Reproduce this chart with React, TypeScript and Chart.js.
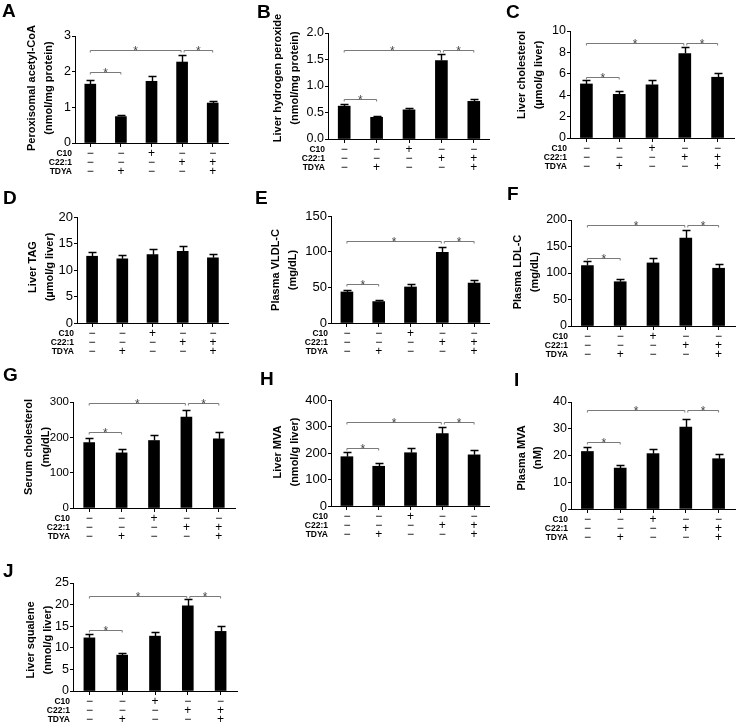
import React, { useEffect, useRef } from "react";
import { Chart, registerables } from "chart.js";

Chart.register(...registerables);

const FONT = '"Liberation Sans", Arial, Helvetica, sans-serif';

// ---------- data ----------
const categories = ["G1", "G2", "G3", "G4", "G5"];
const rowLabels = ["C10", "C22:1", "TDYA"];
const c10Signs = ["−", "−", "+", "−", "−"];
const c22Signs = ["−", "−", "−", "+", "+"];
const tdyaSigns = ["−", "+", "−", "−", "+"];

const titleA = ["Peroxisomal acetyl-CoA", "(nmol/mg protein)"];
const valuesA = [1.65, 0.74, 1.73, 2.27, 1.12];
const errorsA = [0.13, 0.05, 0.14, 0.19, 0.07];
const ticksA = [0, 1, 2, 3];
const tickLabelsA = ["0", "1", "2", "3"];
const bracketsA = [[0, 1, 1.99], [0, 3, 2.62], [3, 4, 2.62]];

const titleB = ["Liver hydrogen peroxide", "(nmol/mg protein)"];
const valuesB = [0.62, 0.41, 0.55, 1.48, 0.71];
const errorsB = [0.04, 0.02, 0.04, 0.12, 0.05];
const ticksB = [0, 0.5, 1, 1.5, 2];
const tickLabelsB = ["0.0", "0.5", "1.0", "1.5", "2.0"];
const bracketsB = [[0, 1, 0.76], [0, 3, 1.67], [3, 4, 1.67]];

const titleC = ["Liver cholesterol", "(µmol/g liver)"];
const valuesC = [5.05, 4.08, 4.97, 7.9, 5.68];
const errorsC = [0.35, 0.32, 0.42, 0.58, 0.42];
const ticksC = [0, 2, 4, 6, 8, 10];
const tickLabelsC = ["0", "2", "4", "6", "8", "10"];
const bracketsC = [[0, 1, 5.72], [0, 3, 8.9], [3, 4, 8.9]];

const titleD = ["Liver TAG", "(µmol/g liver)"];
const valuesD = [12.6, 12.1, 12.9, 13.5, 12.3];
const errorsD = [0.85, 0.75, 1.1, 1.0, 0.8];
const ticksD = [0, 5, 10, 15, 20];
const tickLabelsD = ["0", "5", "10", "15", "20"];
const bracketsD: number[][] = [];

const titleE = ["Plasma VLDL-C", "(mg/dL)"];
const valuesE = [43.5, 30, 50.5, 99, 56];
const errorsE = [3.2, 2.8, 4.5, 8, 4];
const ticksE = [0, 50, 100, 150];
const tickLabelsE = ["0", "50", "100", "150"];
const bracketsE = [[0, 1, 55], [0, 3, 115], [3, 4, 115]];

const titleF = ["Plasma LDL-C", "(mg/dL)"];
const valuesF = [114, 83.5, 119, 166, 109];
const errorsF = [9.5, 5.8, 9.5, 15, 8];
const ticksF = [0, 50, 100, 150, 200];
const tickLabelsF = ["0", "50", "100", "150", "200"];
const bracketsF = [[0, 1, 128.5], [0, 3, 190.5], [3, 4, 190.5]];

const titleG = ["Serum cholesterol", "(mg/dL)"];
const valuesG = [185, 156, 191, 257, 196];
const errorsG = [14, 12, 16, 21, 18];
const ticksG = [0, 100, 200, 300];
const tickLabelsG = ["0", "100", "200", "300"];
const bracketsG = [[0, 1, 215], [0, 3, 298], [3, 4, 298]];

const titleH = ["Liver MVA", "(nmol/g liver)"];
const valuesH = [186, 150, 201, 273, 193];
const errorsH = [16, 12, 16, 27, 17];
const ticksH = [0, 100, 200, 300, 400];
const tickLabelsH = ["0", "100", "200", "300", "400"];
const bracketsH = [[0, 1, 217], [0, 3, 318], [3, 4, 318]];

const titleI = ["Plasma MVA", "(nM)"];
const valuesI = [21.5, 15.3, 20.7, 30.6, 18.8];
const errorsI = [1.6, 1.3, 1.7, 3.0, 1.7];
const ticksI = [0, 10, 20, 30, 40];
const tickLabelsI = ["0", "10", "20", "30", "40"];
const bracketsI = [[0, 1, 25], [0, 3, 36.9], [3, 4, 36.9]];

const titleJ = ["Liver squalene", "(nmol/g liver)"];
const valuesJ = [12.3, 8.3, 12.7, 19.7, 13.8];
const errorsJ = [0.8, 0.5, 1.0, 1.5, 1.2];
const ticksJ = [0, 5, 10, 15, 20, 25];
const tickLabelsJ = ["0", "5", "10", "15", "20", "25"];
const bracketsJ = [[0, 1, 14.1], [0, 3, 21.9], [3, 4, 21.9]];

// ---------- layout (positions / sizes / styles) ----------
type Geo = {
  x: number; y: number; w: number; h: number;
  axisX: number; axisEnd: number; yTop: number; yZero: number;
  titleX: number[]; titleY: number; letterX: number; letterY: number; bar: number; tickFont: number;
};

const geoA: Geo = { x: 0, y: 0, w: 245, h: 180, axisX: 75, axisEnd: 228, yTop: 36, yZero: 143, titleX: [32, 49], titleY: 88, letterX: 2, letterY: 17, bar: 11, tickFont: 12.5 };
const geoB: Geo = { x: 245, y: 0, w: 245, h: 180, axisX: 328, axisEnd: 492, yTop: 33, yZero: 139, titleX: [278, 295], titleY: 78, letterX: 257, letterY: 18, bar: 12, tickFont: 12.5 };
const geoC: Geo = { x: 490, y: 0, w: 248, h: 180, axisX: 570, axisEnd: 734, yTop: 31, yZero: 138, titleX: [522, 539], titleY: 75, letterX: 506, letterY: 18, bar: 12, tickFont: 12.5 };
const geoD: Geo = { x: 0, y: 180, w: 245, h: 180, axisX: 77, axisEnd: 228, yTop: 217, yZero: 323, titleX: [33, 50], titleY: 267, letterX: 3, letterY: 204, bar: 11, tickFont: 13 };
const geoE: Geo = { x: 245, y: 180, w: 245, h: 180, axisX: 331, axisEnd: 494, yTop: 216, yZero: 323, titleX: [276, 293], titleY: 270, letterX: 255, letterY: 204, bar: 12, tickFont: 13 };
const geoF: Geo = { x: 490, y: 180, w: 248, h: 180, axisX: 571, axisEnd: 735, yTop: 220, yZero: 326, titleX: [518, 535], titleY: 272, letterX: 507, letterY: 200, bar: 12, tickFont: 12.5 };
const geoG: Geo = { x: 0, y: 360, w: 245, h: 180, axisX: 73, axisEnd: 235, yTop: 402, yZero: 508, titleX: [29, 46], titleY: 447, letterX: 3, letterY: 381, bar: 11, tickFont: 11.5 };
const geoH: Geo = { x: 245, y: 360, w: 245, h: 180, axisX: 331, axisEnd: 494, yTop: 400, yZero: 506, titleX: [278, 295], titleY: 452, letterX: 260, letterY: 385, bar: 12, tickFont: 13 };
const geoI: Geo = { x: 490, y: 360, w: 248, h: 180, axisX: 571, axisEnd: 735, yTop: 402, yZero: 509, titleX: [522, 538], titleY: 458, letterX: 514, letterY: 386, bar: 12, tickFont: 12.5 };
const geoJ: Geo = { x: 0, y: 540, w: 245, h: 188, axisX: 73, axisEnd: 237, yTop: 583, yZero: 691, titleX: [31, 48], titleY: 640, letterX: 3, letterY: 577, bar: 11, tickFont: 12.5 };

type PanelDef = {
  letter: string; title: string[]; values: number[]; errors: number[];
  ticks: number[]; tickLabels: string[]; brackets: number[][]; geo: Geo;
};

const panels: PanelDef[] = [
  { letter: "A", title: titleA, values: valuesA, errors: errorsA, ticks: ticksA, tickLabels: tickLabelsA, brackets: bracketsA, geo: geoA },
  { letter: "B", title: titleB, values: valuesB, errors: errorsB, ticks: ticksB, tickLabels: tickLabelsB, brackets: bracketsB, geo: geoB },
  { letter: "C", title: titleC, values: valuesC, errors: errorsC, ticks: ticksC, tickLabels: tickLabelsC, brackets: bracketsC, geo: geoC },
  { letter: "D", title: titleD, values: valuesD, errors: errorsD, ticks: ticksD, tickLabels: tickLabelsD, brackets: bracketsD, geo: geoD },
  { letter: "E", title: titleE, values: valuesE, errors: errorsE, ticks: ticksE, tickLabels: tickLabelsE, brackets: bracketsE, geo: geoE },
  { letter: "F", title: titleF, values: valuesF, errors: errorsF, ticks: ticksF, tickLabels: tickLabelsF, brackets: bracketsF, geo: geoF },
  { letter: "G", title: titleG, values: valuesG, errors: errorsG, ticks: ticksG, tickLabels: tickLabelsG, brackets: bracketsG, geo: geoG },
  { letter: "H", title: titleH, values: valuesH, errors: errorsH, ticks: ticksH, tickLabels: tickLabelsH, brackets: bracketsH, geo: geoH },
  { letter: "I", title: titleI, values: valuesI, errors: errorsI, ticks: ticksI, tickLabels: tickLabelsI, brackets: bracketsI, geo: geoI },
  { letter: "J", title: titleJ, values: valuesJ, errors: errorsJ, ticks: ticksJ, tickLabels: tickLabelsJ, brackets: bracketsJ, geo: geoJ },
];

const signRows = [c10Signs, c22Signs, tdyaSigns];
const rowOffsets = [11, 20, 29];

function makeConfig(p: PanelDef): any {
  const g = p.geo;
  const decor = {
    id: "decor" + p.letter,
    afterDraw(chart: any) {
      const ctx = chart.ctx as CanvasRenderingContext2D;
      const xs = chart.scales.x;
      const ys = chart.scales.y;
      ctx.save();
      // error bars (upper whisker)
      ctx.strokeStyle = "#000";
      ctx.lineWidth = 1.4;
      p.values.forEach((v, i) => {
        const cx = Math.round(xs.getPixelForValue(i)) + 0.5;
        const y1 = ys.getPixelForValue(v);
        const y2 = Math.round(ys.getPixelForValue(v + p.errors[i])) + 0.5;
        ctx.beginPath();
        ctx.moveTo(cx, y1);
        ctx.lineTo(cx, y2);
        ctx.moveTo(cx - 4, y2);
        ctx.lineTo(cx + 4, y2);
        ctx.stroke();
      });
      // significance brackets
      p.brackets.forEach(([i, j, v]) => {
        const xa = xs.getPixelForValue(i) + (i === 3 ? 2 : 0);
        const xb = xs.getPixelForValue(j) - (j === 3 ? 1 : 0);
        const yy = Math.round(ys.getPixelForValue(v)) + 0.5;
        ctx.strokeStyle = "#7a7a7a";
        ctx.lineWidth = 1;
        ctx.beginPath();
        ctx.moveTo(xa, yy + 2);
        ctx.lineTo(xa, yy);
        ctx.lineTo(xb, yy);
        ctx.lineTo(xb, yy + 2);
        ctx.stroke();
        ctx.fillStyle = "#444";
        ctx.font = `12px ${FONT}`;
        ctx.textAlign = "center";
        ctx.textBaseline = "alphabetic";
        ctx.fillText("*", (xa + xb) / 2, yy + 4);
      });
      // +/- rows
      const bottom = ys.getPixelForValue(0);
      ctx.fillStyle = "#000";
      signRows.forEach((row, r) => {
        const ry = bottom + rowOffsets[r];
        ctx.font = `12px ${FONT}`;
        ctx.textAlign = "center";
        ctx.textBaseline = "middle";
        row.forEach((s, i) => {
          ctx.fillText(s, xs.getPixelForValue(i), ry);
        });
        ctx.font = `bold 8.5px ${FONT}`;
        ctx.textAlign = "right";
        ctx.fillText(rowLabels[r], chart.chartArea.left - 3, ry);
      });
      // axis title
      ctx.font = `bold 11px ${FONT}`;
      ctx.textAlign = "center";
      ctx.textBaseline = "middle";
      p.title.forEach((t, k) => {
        ctx.save();
        ctx.translate(g.titleX[k] - g.x, g.titleY - g.y);
        ctx.rotate(-Math.PI / 2);
        ctx.fillText(t, 0, 0);
        ctx.restore();
      });
      // panel letter
      ctx.font = `bold 19px ${FONT}`;
      ctx.textAlign = "left";
      ctx.textBaseline = "alphabetic";
      ctx.fillText(p.letter, g.letterX - g.x, g.letterY - g.y);
      ctx.restore();
    },
  };

  return {
    type: "bar",
    data: {
      labels: categories,
      datasets: [
        {
          data: p.values,
          backgroundColor: "#000",
          borderWidth: 0,
          barThickness: g.bar,
        },
      ],
    },
    options: {
      responsive: false,
      animation: false,
      devicePixelRatio: 1,
      layout: {
        autoPadding: false,
        padding: { left: 0, top: g.yTop - g.y, right: g.x + g.w - g.axisEnd, bottom: 0 },
      },
      plugins: { legend: { display: false }, tooltip: { enabled: false } },
      scales: {
        x: {
          type: "category",
          offset: true,
          grid: { display: true, drawOnChartArea: false, offset: false, tickLength: 4, color: "#000", lineWidth: 1 },
          border: { display: true, color: "#000", width: 1 },
          ticks: { display: false },
          afterFit: (s: any) => { s.height = g.y + g.h - g.yZero; },
        },
        y: {
          min: 0,
          max: p.ticks[p.ticks.length - 1],
          afterBuildTicks: (s: any) => { s.ticks = p.ticks.map((v) => ({ value: v })); },
          ticks: {
            callback: (_v: any, i: number) => p.tickLabels[i],
            font: { family: FONT, size: g.tickFont },
            color: "#000",
            padding: 1,
          },
          grid: { display: true, drawOnChartArea: false, tickLength: 3, color: "#000", lineWidth: 1 },
          border: { display: true, color: "#000", width: 1 },
          afterFit: (s: any) => { s.width = g.axisX - g.x; },
        },
      },
    },
    plugins: [decor],
  };
}

function Panel({ p }: { p: PanelDef }) {
  const ref = useRef<HTMLCanvasElement | null>(null);
  useEffect(() => {
    if (!ref.current) return;
    const chart = new Chart(ref.current, makeConfig(p));
    return () => chart.destroy();
  }, [p]);
  const g = p.geo;
  return (
    <canvas
      ref={ref}
      width={g.w}
      height={g.h}
      style={{ position: "absolute", left: g.x, top: g.y, width: g.w, height: g.h }}
    />
  );
}

export default function App() {
  return (
    <div style={{ position: "fixed", left: 0, top: 0, width: 738, height: 728, background: "#fff", overflow: "hidden" }}>
      {panels.map((p) => (
        <Panel key={p.letter} p={p} />
      ))}
    </div>
  );
}
